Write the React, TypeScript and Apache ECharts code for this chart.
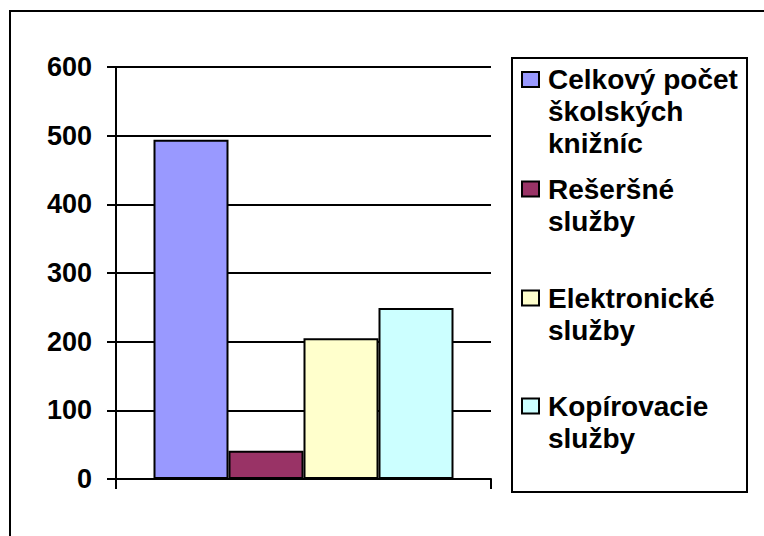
import React, { useEffect, useRef } from 'react';
import * as echarts from 'echarts';

const categories = [''];
const seriesNames = ['Celkový počet školských knižníc', 'Rešeršné služby', 'Elektronické služby', 'Kopírovacie služby'];
const legendLines = [
  ['Celkový počet', 'školských', 'knižníc'],
  ['Rešeršné', 'služby'],
  ['Elektronické', 'služby'],
  ['Kopírovacie', 'služby'],
];
const seriesValues = [494, 41, 205, 249];
const seriesColors = ['#9999FF', '#993366', '#FFFFCC', '#CCFFFF'];
const yMin = 0;
const yMax = 600;
const yInterval = 100;

const FONT = 'Arial, "Liberation Sans", sans-serif';
const LH = 32;
const iconCenters = [79.5, 189, 298, 406];

export default function App() {
  const ref = useRef<HTMLDivElement>(null);
  useEffect(() => {
    if (!ref.current) return;
    const chart = echarts.init(ref.current, undefined, { renderer: 'svg' });
    const legends = seriesNames.map((name, i) => {
      const lines = legendLines[i];
      const n = lines.length;
      // leading blank lines so the first text line sits level with the icon
      const label = '\n'.repeat(n - 1) + lines.join('\n');
      return {
        show: true,
        orient: 'vertical',
        left: 521,
        top: iconCenters[i] - ((2 * n - 1) * LH) / 2,
        padding: 0,
        itemWidth: 17,
        itemHeight: 15,
        icon: 'rect',
        selectedMode: false,
        formatter: () => label,
        textStyle: {
          fontSize: 28,
          fontWeight: 'bold',
          fontFamily: FONT,
          color: '#000',
          lineHeight: LH,
          backgroundColor: 'rgba(255,255,255,0)',
          padding: [0, 0, 0, 4],
        },
        data: [{ name }],
      };
    });
    chart.setOption({
      animation: false,
      backgroundColor: '#fff',
      grid: { left: 116, right: 273, top: 67, bottom: 57, containLabel: false },
      legend: legends,
      xAxis: {
        type: 'category',
        data: categories,
        axisLine: { show: true, lineStyle: { color: '#000', width: 2 } },
        axisTick: { show: true, length: 10, lineStyle: { color: '#000', width: 2 } },
        axisLabel: { show: false },
        splitLine: { show: false },
      },
      yAxis: {
        type: 'value',
        min: yMin,
        max: yMax,
        interval: yInterval,
        axisLine: { show: true, lineStyle: { color: '#000', width: 2 } },
        axisTick: { show: true, length: 9, lineStyle: { color: '#000', width: 2 } },
        splitLine: { show: true, lineStyle: { color: '#000', width: 2 } },
        axisLabel: { fontSize: 27, fontWeight: 'bold', fontFamily: FONT, color: '#000', margin: 24 },
      },
      series: seriesNames.map((name, i) => ({
        type: 'bar',
        name,
        data: [seriesValues[i]],
        barGap: '0%',
        barCategoryGap: '20%',
        itemStyle: { color: seriesColors[i], borderColor: '#000', borderWidth: 2 },
      })),
      graphic: [
        {
          type: 'rect',
          silent: true,
          shape: { x: 10, y: 11, width: 800, height: 600 },
          style: { fill: 'none', stroke: '#000', lineWidth: 2 },
        },
        {
          type: 'rect',
          silent: true,
          shape: { x: 512, y: 58, width: 235, height: 434 },
          style: { fill: 'none', stroke: '#000', lineWidth: 2 },
        },
      ],
    });
    return () => chart.dispose();
  }, []);
  return (
    <div
      ref={ref}
      style={{ position: 'fixed', left: 0, top: 0, width: 764, height: 536, background: '#fff' }}
    />
  );
}
